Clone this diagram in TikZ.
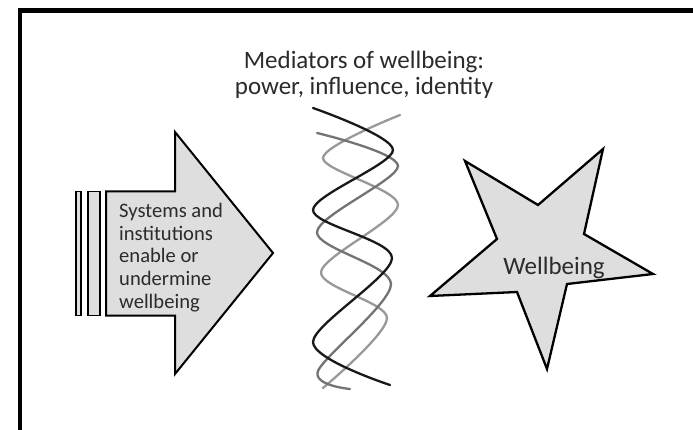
\documentclass[tikz,border=0pt]{standalone}
\usepackage{fontspec}
\setmainfont{Carlito}
\usetikzlibrary{shapes,arrows,positioning}
\definecolor{shade}{rgb}{.87,.87,.87}
\definecolor{txt}{rgb}{.17,.17,.17}
\definecolor{ink}{rgb}{.1,.1,.1}
\definecolor{midgray}{rgb}{.45,.45,.45}
\definecolor{lightgray}{rgb}{.6,.6,.6}
\def\Outcome{Wellbeing}

\begin{document}
\begin{tikzpicture}[% pixel-like units, y runs downwards
		x=1pt,y=-1pt,
		every node/.style={
			align=center,   % so that "\\" breaks lines
			text=txt,
			inner sep=0pt
		},
		outline/.style={draw=black,line width=2pt,fill=shade,line join=miter},
		strand/.style={line width=2.3pt,line cap=round},
		bigtext/.style={font=\fontsize{25}{25.5}\selectfont},
		smalltext/.style={font=\fontsize{20.6}{22.8}\selectfont}
	]
	\useasboundingbox (0,0) rectangle (693,430);
	\clip (0,0) rectangle (693,430);
	\fill[white] (0,0) rectangle (693,430);
	% outer frame, runs off the right and bottom edge
	\draw[line width=4.5pt] (20,10.5) rectangle (710,433);

	% block arrow with its two tail bars
	\draw[outline,line width=1.6pt] (76,191.5) rectangle (81,315.5);
	\draw[outline,line width=1.6pt] (88,191.5) rectangle (100,315.5);
	\draw[outline] (106,191.5) -- (175,191.5) -- (175,132) -- (273,253)
		-- (175,374) -- (175,315.5) -- (106,315.5) -- cycle;
	\node[smalltext,align=left,anchor=west](cause) at (119,257.5)
		{Systems and\\institutions\\enable or\\undermine\\wellbeing};

	% the twisted strands
	\draw[strand,lightgray] plot[smooth] coordinates
		{(400,115) (323,158) (398,205) (321,272) (387,318) (323,388)};
	\draw[strand,midgray] plot[smooth] coordinates
		{(317,133) (398,166) (317,232) (391,284) (318,371) (350,389)};
	\draw[strand,ink] plot[smooth] coordinates
		{(313,108) (393,150) (313,210) (392,258) (313,342) (390,385)};
	\node[bigtext](mediators) at (364,75)
		{Mediators of wellbeing:\\power, influence, identity};

	% star
	\draw[outline,line width=2.3pt] (465,161) -- (538,205) -- (603,149) -- (584,234)
		-- (653,274) -- (567,284) -- (547,369) -- (517,292) -- (430,296)
		-- (497,239) -- cycle;
	\node[font=\fontsize{25}{28}\selectfont](outcome) at (554,268) {\Outcome};
\end{tikzpicture}
\end{document}
